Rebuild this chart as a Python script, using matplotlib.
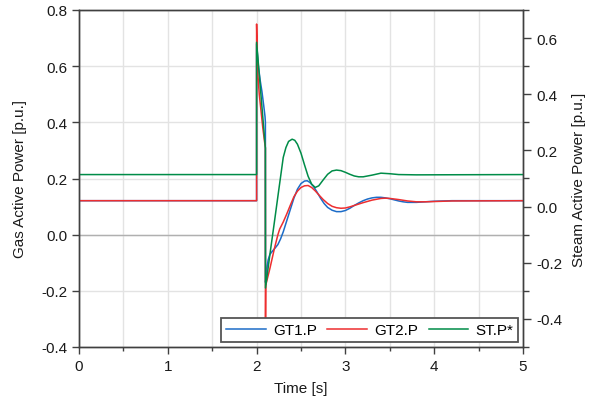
import matplotlib
matplotlib.use("Agg")
import matplotlib.pyplot as plt
from matplotlib.ticker import MultipleLocator

plt.rcParams['font.family'] = ['Liberation Sans', 'DejaVu Sans']
plt.rcParams['font.size'] = 11

# GT1.P (left axis)
t_gt1 = [0.0, 2.0, 2.0, 2.02, 2.04, 2.06, 2.08, 2.095, 2.099, 2.1, 2.11, 2.12, 2.13, 2.15,
         2.18, 2.21, 2.24, 2.27, 2.30, 2.34, 2.38, 2.42, 2.46, 2.50, 2.54, 2.57, 2.60,
         2.64, 2.68, 2.72, 2.76, 2.80, 2.85, 2.90, 2.95, 3.0, 3.05, 3.1, 3.15, 3.2, 3.25,
         3.3, 3.35, 3.4, 3.45, 3.5, 3.55, 3.6, 3.65, 3.7, 3.75, 3.8, 3.9, 4.0, 4.2, 5.0]
p_gt1 = [0.121, 0.121, 0.68, 0.60, 0.55, 0.51, 0.46, 0.42, 0.40, -0.17, -0.14, -0.11, -0.09, -0.07,
         -0.058, -0.047, -0.035, -0.015, 0.01, 0.05, 0.09, 0.13, 0.162, 0.182, 0.191, 0.192, 0.186,
         0.172, 0.152, 0.130, 0.111, 0.097, 0.087, 0.082, 0.082, 0.086, 0.094, 0.104, 0.113, 0.121, 0.127,
         0.131, 0.133, 0.133, 0.131, 0.128, 0.124, 0.120, 0.117, 0.115, 0.115, 0.115, 0.117, 0.119, 0.121, 0.121]

# GT2.P (left axis)
t_gt2 = [0.0, 2.0, 2.0, 2.005, 2.012, 2.03, 2.05, 2.07, 2.09, 2.099, 2.1, 2.103, 2.15, 2.2,
         2.24, 2.26, 2.30, 2.34, 2.38, 2.42, 2.46, 2.50, 2.54, 2.58, 2.62, 2.66, 2.70, 2.75,
         2.80, 2.85, 2.90, 2.95, 3.0, 3.05, 3.1, 3.2, 3.3, 3.4, 3.45, 3.5, 3.6, 3.7, 3.8,
         3.9, 4.0, 4.2, 5.0]
p_gt2 = [0.121, 0.121, 0.75, 0.68, 0.58, 0.50, 0.44, 0.38, 0.33, 0.31, -0.38, -0.18, -0.12, -0.05,
         0.0, 0.02, 0.045, 0.074, 0.105, 0.135, 0.155, 0.168, 0.174, 0.175, 0.168, 0.156, 0.142, 0.125,
         0.111, 0.101, 0.096, 0.094, 0.095, 0.099, 0.104, 0.114, 0.123, 0.129, 0.130, 0.129, 0.125, 0.120, 0.117,
         0.117, 0.118, 0.120, 0.121]

# ST.P* (right axis)
t_st = [0.0, 2.0, 2.0, 2.099, 2.1, 2.15, 2.2, 2.25, 2.3, 2.33, 2.36, 2.40, 2.43, 2.46, 2.50,
        2.54, 2.58, 2.62, 2.66, 2.70, 2.75, 2.80, 2.85, 2.90, 2.95, 3.0, 3.05, 3.1, 3.15,
        3.2, 3.3, 3.4, 3.5, 3.6, 3.8, 5.0]
p_st = [0.114, 0.114, 0.585, 0.207, -0.29, -0.17, -0.056, 0.06, 0.175, 0.21, 0.232, 0.240, 0.236, 0.222, 0.190,
        0.148, 0.108, 0.080, 0.068, 0.074, 0.095, 0.115, 0.127, 0.130, 0.128, 0.122, 0.115, 0.109, 0.106,
        0.106, 0.112, 0.119, 0.117, 0.114, 0.113, 0.114]

left_ticks = [-0.4, -0.2, 0.0, 0.2, 0.4, 0.6, 0.8]
right_ticks = [-0.4, -0.2, 0.0, 0.2, 0.4, 0.6]

c_blue = (28/255, 108/255, 200/255)
c_red = (238/255, 46/255, 47/255)
c_green = (0/255, 140/255, 72/255)

fig = plt.figure(figsize=(5.9, 4.02), dpi=100)
ax = fig.add_axes([79/590, 1-348/402, (523-79)/590, (348-11)/402])
ax2 = ax.twinx()

ax.set_xlim(0, 5)
ax.set_ylim(-0.4, 0.8)
ax2.set_ylim(-0.5, 0.7)

ax.xaxis.set_major_locator(MultipleLocator(1))
ax.xaxis.set_minor_locator(MultipleLocator(0.5))
ax2.yaxis.set_minor_locator(MultipleLocator(0.1))

ax.grid(True, which='both', axis='x', color='#e3e3e3', linewidth=1.0)
ax.grid(True, which='major', axis='y', color='#e3e3e3', linewidth=1.0)
ax.axhline(0, color='#b0b0b0', linewidth=1.0, zorder=1)
ax.set_axisbelow(True)

l1, = ax.plot(t_gt1, p_gt1, color=c_blue, linewidth=1.1, label='GT1.P', zorder=3)
l2, = ax.plot(t_gt2, p_gt2, color=c_red, linewidth=1.1, label='GT2.P', zorder=3)
l3, = ax2.plot(t_st, p_st, color=c_green, linewidth=1.1, label='ST.P*')

ax.set_yticks(left_ticks)
ax.set_yticklabels([f"{v:.1f}" for v in left_ticks])
ax2.set_yticks(right_ticks)
ax2.set_yticklabels([f"{v:.1f}" for v in right_ticks])

for a in (ax, ax2):
    for s in a.spines.values():
        s.set_color('#404040')
        s.set_linewidth(1.0)
ax.tick_params(axis='both', which='major', direction='out', length=5, width=1, color='#404040',
               labelsize=11, labelcolor='#1a1a1a')
ax.tick_params(axis='x', which='minor', direction='out', length=3, width=1, color='#404040')
ax2.tick_params(axis='y', which='major', direction='out', length=6, width=1, color='#404040',
                labelsize=11, labelcolor='#1a1a1a')
ax2.tick_params(axis='y', which='minor', direction='out', length=4, width=1, color='#404040')

ax.set_xlabel('Time [s]', fontsize=11, color='#1a1a1a', labelpad=6)
ax.set_ylabel('Gas Active Power [p.u.]', fontsize=11, color='#1a1a1a', labelpad=10)
ax2.set_ylabel('Steam Active Power [p.u.]', fontsize=11, color='#1a1a1a', labelpad=7)

leg = ax2.legend(handles=[l1, l2, l3], loc='lower right', ncol=3, frameon=True, fancybox=False,
                 edgecolor='#555555', framealpha=1.0, fontsize=11, handlelength=2.6,
                 handletextpad=0.45, columnspacing=0.7, borderaxespad=0.3, borderpad=0.35)
leg.get_frame().set_linewidth(1.3)

fig.savefig('out.png', dpi=100)
